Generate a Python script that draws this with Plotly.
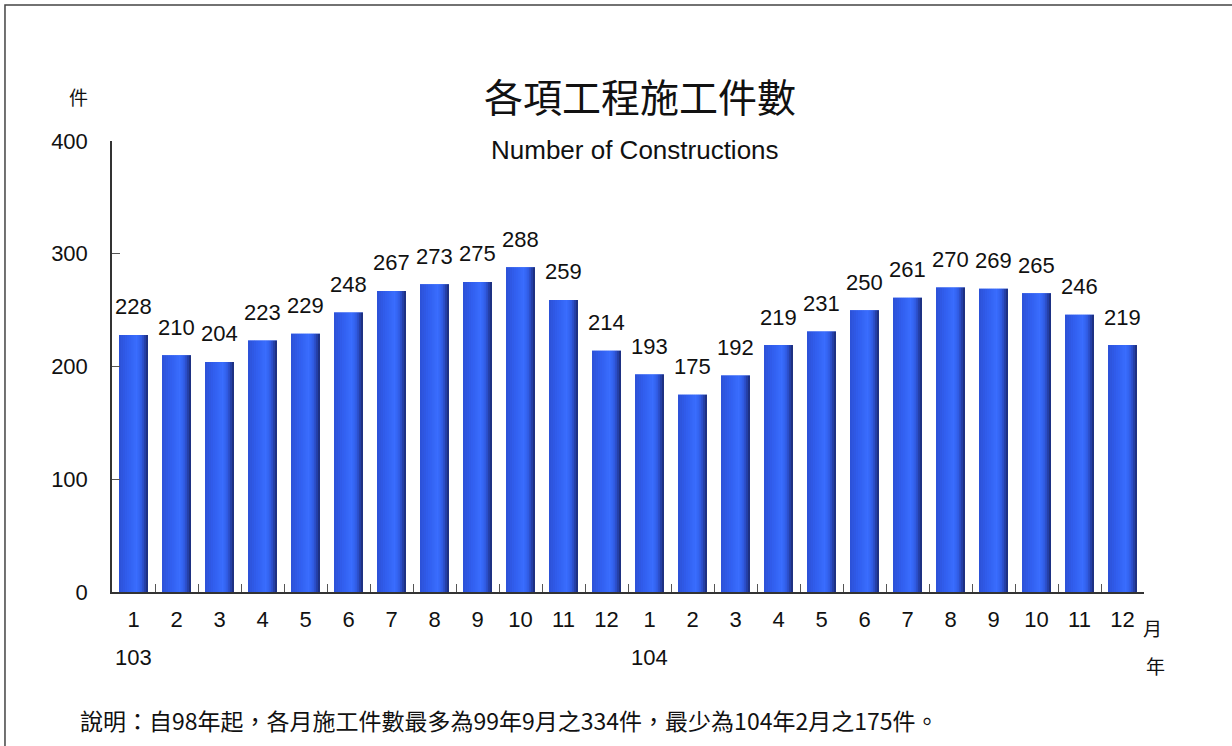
import plotly.graph_objects as go

months = ["1", "2", "3", "4", "5", "6", "7", "8", "9", "10", "11", "12",
          "1", "2", "3", "4", "5", "6", "7", "8", "9", "10", "11", "12"]
years = ["103", "104"]
year_pos = [0, 12]
values = [228, 210, 204, 223, 229, 248, 267, 273, 275, 288, 259, 214,
          193, 175, 192, 219, 231, 250, 261, 270, 269, 265, 246, 219]
y_ticks = [0, 100, 200, 300, 400]

title_zh = "各項工程施工件數"
title_en = "Number of Constructions"
unit_y = "件"
unit_month = "月"
unit_year = "年"
note = "說明：自98年起，各月施工件數最多為99年9月之334件，最少為104年2月之175件。"

NUM_FONT = "Liberation Sans Narrow, Arial Narrow, Liberation Sans, Arial"
CJK_FONT = "Noto Sans CJK TC, Noto Sans CJK SC"

x = list(range(len(values)))
BAR_W = 0.674

# horizontal gradient of the bars: (position, rgb)
stops = [(0.0, (44, 80, 214)), (0.35, (50, 96, 240)), (0.62, (58, 110, 255)),
         (0.78, (48, 90, 226)), (0.9, (36, 62, 165)), (1.0, (26, 42, 112))]


def grad(t):
    for (p0, c0), (p1, c1) in zip(stops[:-1], stops[1:]):
        if p0 <= t <= p1:
            f = (t - p0) / (p1 - p0)
            return "rgb(%d,%d,%d)" % tuple(round(a + (b - a) * f) for a, b in zip(c0, c1))
    return "rgb(%d,%d,%d)" % stops[-1][1]


fig = go.Figure()
fig.add_trace(go.Bar(
    x=x, y=values, width=BAR_W, marker=dict(color=grad(0.5), line=dict(width=0)),
    hoverinfo="skip",
))
N = 14
for i in range(N):
    w = BAR_W / N
    fig.add_trace(go.Bar(
        x=x, y=values, width=w * 1.08 if i < N - 1 else w,
        offset=-BAR_W / 2 + i * w,
        marker=dict(color=grad((i + 0.5) / N), line=dict(width=0)),
        hoverinfo="skip",
    ))

# boundary ticks axis
fig.add_trace(go.Scatter(x=[-0.5, 23.5], y=[0, 0], mode="lines", xaxis="x2",
                         line=dict(width=0), hoverinfo="skip"))

fig.update_layout(
    width=1232, height=746,
    margin=dict(l=112, r=88, t=141, b=154),
    paper_bgcolor="white", plot_bgcolor="white",
    barmode="overlay", showlegend=False,
    font=dict(family=NUM_FONT, color="#111"),
    xaxis=dict(range=[-0.5, 23.5], tickmode="array", tickvals=x, ticktext=months,
               ticks="", showline=True, linecolor="#333", linewidth=1.5,
               showgrid=False, zeroline=False,
               tickfont=dict(family=NUM_FONT, size=22, color="#111"),
               ticklabelstandoff=7),
    xaxis2=dict(range=[-0.5, 23.5], overlaying="x", side="bottom", anchor="y",
                tickmode="array", tickvals=[i - 0.5 for i in range(25)],
                ticks="inside", ticklen=8, tickcolor="#555", tickwidth=1.2,
                showticklabels=False, showgrid=False, zeroline=False, showline=False),
    yaxis=dict(range=[0, 400], tickmode="array", tickvals=y_ticks,
               ticks="inside", ticklen=8, tickcolor="#555", tickwidth=1.2,
               showline=True, linecolor="#333", linewidth=1.5,
               showgrid=False, zeroline=False,
               tickfont=dict(family=NUM_FONT, size=22, color="#111"),
               ticklabelstandoff=18),
)

# value labels above the bars
for xi, v in zip(x, values):
    fig.add_annotation(text=str(v), x=xi, y=v, xref="x", yref="y", showarrow=False,
                       xanchor="center", yanchor="middle", yshift=28,
                       font=dict(family=NUM_FONT, size=22, color="#111"))

ann = [
    dict(text=title_zh, x=0.5116, y=1.102, font=dict(family=CJK_FONT, size=39, color="#111")),
    dict(text=title_en, x=0.507, y=0.98, font=dict(family=NUM_FONT, size=26, color="#111")),
    dict(text=unit_y, x=-0.0329, y=1.0976, font=dict(family=CJK_FONT, size=19, color="#111")),
    dict(text=unit_month, x=1.0078, y=-0.0798, font=dict(family=CJK_FONT, size=19, color="#111")),
    dict(text=unit_year, x=1.0107, y=-0.162, font=dict(family=CJK_FONT, size=19, color="#111")),
    dict(text=note, x=-0.0329, y=-0.284, xanchor="left",
         font=dict(family=CJK_FONT, size=23, color="#111")),
]
for a in ann:
    a.setdefault("xanchor", "center")
    a.update(xref="paper", yref="paper", yanchor="middle", showarrow=False)
    fig.add_annotation(**a)
for yr, p in zip(years, year_pos):
    fig.add_annotation(text=yr, x=p, xref="x", y=-0.146, yref="paper", showarrow=False,
                       xanchor="center", yanchor="middle",
                       font=dict(family=NUM_FONT, size=22, color="#111"))

fig.add_shape(type="rect", xref="paper", yref="paper", x0=-0.1037, x1=1.3, y0=-0.6, y1=1.3016,
              line=dict(color="#444", width=1.5), fillcolor="rgba(0,0,0,0)", layer="below")

fig.write_html("out.html", config={"displayModeBar": False},
               post_script="document.body.style.margin='0';document.body.style.overflow='hidden';")
